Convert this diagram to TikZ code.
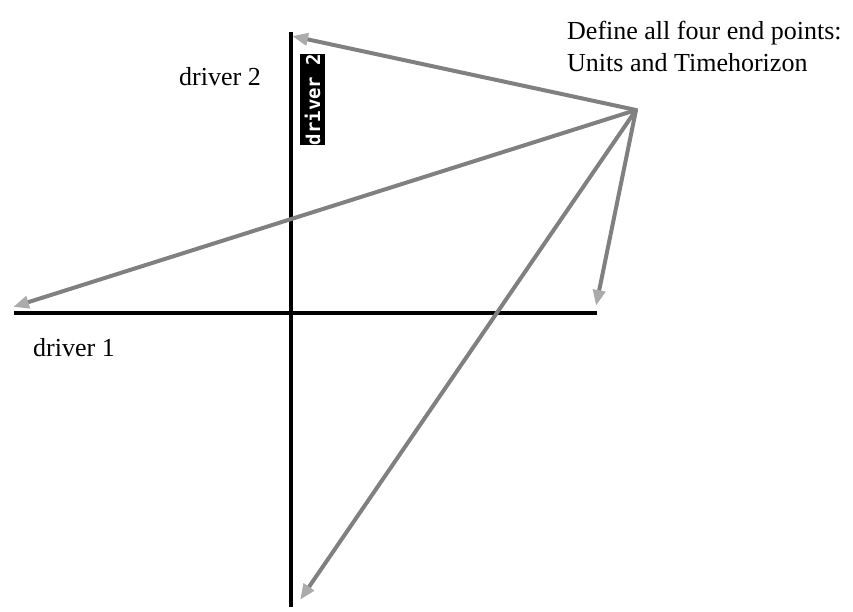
\documentclass[tikz,border=0pt]{standalone}
\usepackage{fontspec}
\setmainfont{Liberation Serif}
\newfontfamily\labelmono{DejaVu Sans Mono}
\usepackage{xcolor}
\colorlet{colRay}{black!50}
\colorlet{colTip}{black!33}
\usetikzlibrary{arrows.meta, positioning}

\tikzset{
  axisline/.style={line width=4.5pt, black},
  ray/.style={line width=4pt, colRay, -{Triangle[length=16pt, width=12pt, color=colTip]}},
  caption/.style={font=\fontsize{26}{32}\selectfont, inner sep=0pt},
  tag/.style={fill=black, text=white, font=\labelmono\bfseries\fontsize{19}{19}\selectfont,
    minimum width=85pt, minimum height=25pt, inner sep=0pt, rotate=90}
}

\begin{document}
\begin{tikzpicture}[x=1pt, y=-1pt]
				\useasboundingbox (0,0) rectangle (853,612);
				% axes
				\coordinate (xl) at (14,313);
				\coordinate (xr) at (597,313);
				\coordinate (yt) at (291,32);
				\coordinate (yb) at (291,607);
				\draw[axisline] (xl) -- (xr);
				\draw[axisline] (yt) -- (yb);
				\node[tag] (tagY) at (312.5,99.5) {driver 2};
				% labels
				\node[caption] (lblY) at (220,77) {driver 2};
				\node[caption] (lblX) at (74,348) {driver 1};
				\node[caption, anchor=west, align=left] (note) at (567,46) {Define all four end points:\\Units and Timehorizon};
				% rays to the end points
				\coordinate (src) at (636,110);
				\coordinate (endT) at (292,36);
				\coordinate (endL) at (13,307);
				\coordinate (endR) at (596,306);
				\coordinate (endB) at (300,600);
				\foreach \e in {endT, endL, endR, endB}
					\draw[ray, line cap=round] (src) -- (\e);
			\end{tikzpicture}
\end{document}
